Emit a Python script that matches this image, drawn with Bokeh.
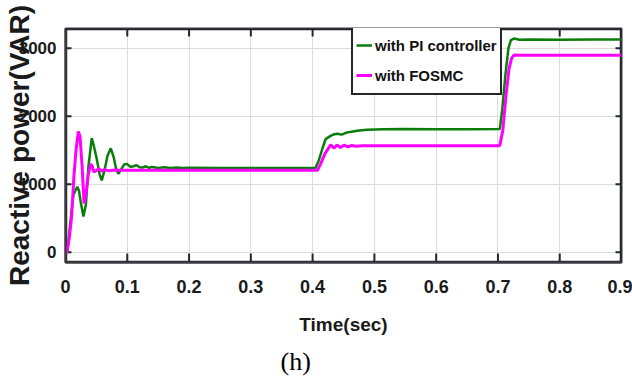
from bokeh.plotting import figure
from bokeh.models import (ColumnDataSource, FixedTicker, Title,
                          Legend, LegendItem, Range1d)
from bokeh.embed import file_html
from bokeh.resources import INLINE

# ---------------- data ----------------
t_pi = [0, 0.003, 0.008, 0.0127, 0.016, 0.019, 0.022, 0.025, 0.029, 0.033,
        0.037, 0.0425, 0.046, 0.0506, 0.055, 0.0587, 0.063, 0.068, 0.0733,
        0.078, 0.082, 0.0856, 0.09, 0.095, 0.0995, 0.105, 0.11, 0.115, 0.12,
        0.125, 0.13, 0.135, 0.14, 0.15, 0.16, 0.17, 0.18, 0.19, 0.2, 0.25,
        0.3, 0.35, 0.4046, 0.41, 0.415, 0.421, 0.429, 0.435, 0.44, 0.447,
        0.455, 0.461, 0.472, 0.488, 0.515, 0.55, 0.6, 0.65, 0.703, 0.707,
        0.712, 0.717, 0.721, 0.726, 0.735, 0.75, 0.8, 0.85, 0.9]
q_pi = [0, 0, 450, 840, 910, 962, 900, 720, 526, 700,
        1250, 1679, 1560, 1373, 1150, 1058, 1200, 1420, 1529,
        1400, 1220, 1155, 1220, 1290, 1300, 1255, 1265, 1280, 1250,
        1245, 1265, 1240, 1255, 1240, 1250, 1238, 1248, 1240, 1243, 1240,
        1240, 1240, 1240, 1350, 1500, 1664, 1712, 1735, 1744, 1730,
        1760, 1770, 1787, 1800, 1808, 1812, 1810, 1810, 1812, 2100,
        2600, 3000, 3118, 3142, 3125, 3130, 3125, 3128, 3128]

t_fosmc = [0, 0.002, 0.006, 0.0097, 0.0135, 0.017, 0.0208, 0.0235, 0.027,
           0.030, 0.033, 0.037, 0.041, 0.0435, 0.046, 0.05, 0.054, 0.058,
           0.063, 0.07, 0.08, 0.09, 0.1, 0.2, 0.3, 0.4078, 0.413, 0.42,
           0.429, 0.435, 0.4395, 0.445, 0.451, 0.457, 0.463, 0.47, 0.48,
           0.5, 0.55, 0.6, 0.65, 0.703, 0.708, 0.713, 0.718, 0.722, 0.726,
           0.735, 0.75, 0.8, 0.85, 0.9]
q_fosmc = [0, 0, 200, 500, 1100, 1500, 1776, 1700, 1250,
           720, 850, 1150, 1300, 1260, 1180, 1200, 1230, 1195,
           1215, 1200, 1210, 1205, 1205, 1205, 1205, 1205, 1300, 1450,
           1577, 1533, 1579, 1540, 1575, 1550, 1570, 1560, 1568,
           1565, 1565, 1565, 1565, 1565, 1800, 2300, 2700, 2850, 2900,
           2895, 2895, 2895, 2895, 2895]

x_ticks = [0, 0.1, 0.2, 0.3, 0.4, 0.5, 0.6, 0.7, 0.8, 0.9]
x_tick_labels = ["0", "0.1", "0.2", "0.3", "0.4", "0.5", "0.6", "0.7", "0.8", "0.9"]
y_ticks = [0, 1000, 2000, 3000]
y_tick_labels = ["0", "1000", "2000", "3000"]

series_names = ["with PI controller", "with FOSMC"]
x_title = "Time(sec)"
y_title = "Reactive power(VAR)"
caption = "(h)"

# ---------------- styling ----------------
SANS = "Liberation Sans"
FRAME_COLOR = "#23262b"
AXIS_COLOR = "#3b3d42"
GREEN = "#0a7d0a"
MAGENTA = "#ff00ff"

X0, X1 = 0.0, 0.9
Y0, Y1 = -150.0, 3290.0
FRAME_W, FRAME_H = 556, 237          # frame size in px
UX = (X1 - X0) / FRAME_W             # data units per px
UY = (Y1 - Y0) / FRAME_H

p = figure(width=632, height=382, output_backend="svg", toolbar_location=None,
           x_range=Range1d(X0, X1), y_range=Range1d(Y0, Y1),
           min_border_left=0, min_border_right=11, min_border_top=28,
           min_border_bottom=117)
p.background_fill_color = "white"
p.border_fill_color = "white"
p.outline_line_color = AXIS_COLOR
p.outline_line_width = 2
p.outline_line_alpha = 1.0

# light grid
p.xgrid.ticker = FixedTicker(ticks=x_ticks)
p.ygrid.ticker = FixedTicker(ticks=y_ticks)
for g in (p.xgrid, p.ygrid):
    g.grid_line_color = "#dcdcdc"
    g.grid_line_width = 1

# box frame drawn as a line glyph round the range limits
p.line(x=[X0, X1, X1, X0, X0], y=[Y0, Y0, Y1, Y1, Y0],
       line_color=FRAME_COLOR, line_width=3.5, line_alpha=1.0)

# inward tick marks on all four sides
tick_xs = ([[t, t] for t in x_ticks] + [[t, t] for t in x_ticks]
           + [[X0, X0 + 6 * UX] for _ in y_ticks]
           + [[X1, X1 - 6 * UX] for _ in y_ticks])
tick_ys = ([[Y0, Y0 + 9 * UY] for _ in x_ticks]
           + [[Y1, Y1 - 8 * UY] for _ in x_ticks]
           + [[v, v] for v in y_ticks] + [[v, v] for v in y_ticks])
p.multi_line(xs=tick_xs, ys=tick_ys, line_color=FRAME_COLOR, line_width=2,
             line_alpha=1.0)

src_pi = ColumnDataSource(dict(t=t_pi, q=q_pi))
src_fo = ColumnDataSource(dict(t=t_fosmc, q=q_fosmc))
r_pi = p.line("t", "q", source=src_pi, line_color=GREEN, line_width=2.5)
r_fo = p.line("t", "q", source=src_fo, line_color=MAGENTA, line_width=3)


def style_axis(ax, ticks, labels):
    ax.ticker = FixedTicker(ticks=ticks)
    ax.major_label_overrides = {t: l for t, l in zip(ticks, labels)}
    ax.axis_line_color = AXIS_COLOR
    ax.axis_line_width = 2
    ax.major_tick_line_color = None
    ax.major_tick_in = 0
    ax.major_tick_out = 0
    ax.minor_tick_line_color = None
    ax.major_label_text_font = SANS
    ax.major_label_text_font_style = "bold"
    ax.major_label_text_color = "#1a1a1a"


xb = p.xaxis[0]
style_axis(xb, x_ticks, x_tick_labels)
xb.major_label_text_font_size = "18px"
xb.major_label_standoff = 17
xb.axis_label = x_title
xb.axis_label_text_font = SANS
xb.axis_label_text_font_style = "bold"
xb.axis_label_text_font_size = "19px"
xb.axis_label_text_color = "#1a1a1a"
xb.axis_label_standoff = 18

yl = p.yaxis[0]
style_axis(yl, y_ticks, y_tick_labels)
yl.major_label_text_font_size = "17px"
yl.major_label_standoff = 9
yl.axis_label = y_title
yl.axis_label_text_font = SANS
yl.axis_label_text_font_style = "bold"
yl.axis_label_text_font_size = "28px"
yl.axis_label_text_color = "#1a1a1a"
yl.axis_label_standoff = -19

# legend
legend = Legend(items=[LegendItem(label=series_names[0], renderers=[r_pi]),
                       LegendItem(label=series_names[1], renderers=[r_fo])],
                location=(286, 167))
legend.label_text_font = SANS
legend.label_text_font_style = "bold"
legend.label_text_font_size = "15px"
legend.label_text_color = "#111111"
legend.glyph_width = 16
legend.glyph_height = 20
legend.label_height = 30
legend.label_standoff = 3
legend.spacing = 0
legend.padding = 3
legend.margin = 0
legend.border_line_color = FRAME_COLOR
legend.border_line_width = 2
legend.border_line_alpha = 1.0
legend.background_fill_color = "white"
legend.background_fill_alpha = 1
p.add_layout(legend, "center")

cap = Title(text=caption, align="left", offset=215, text_font="Liberation Serif",
            text_font_size="26px", text_font_style="normal",
            text_color="#000000", standoff=14)
p.add_layout(cap, "below")

open("out.html", "w").write(file_html(p, INLINE))
